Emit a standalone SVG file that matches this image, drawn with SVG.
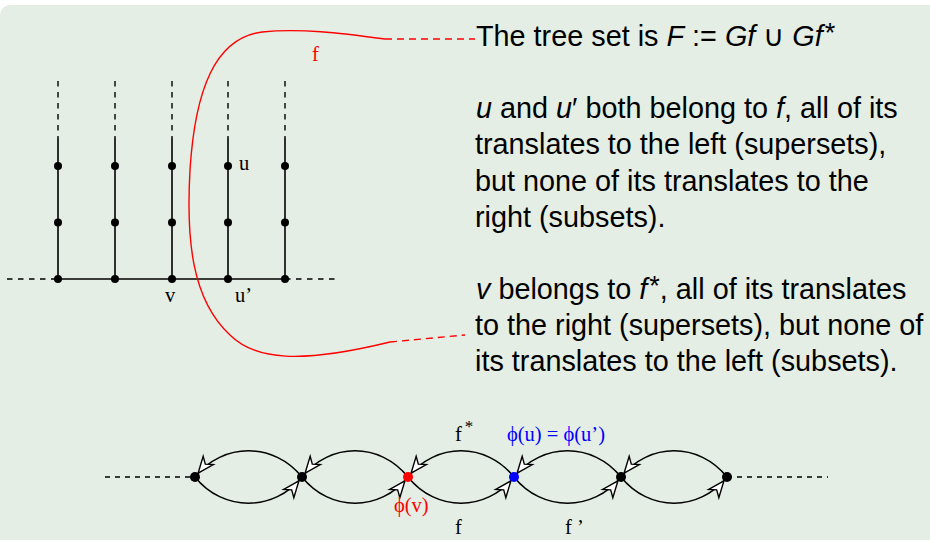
<svg xmlns="http://www.w3.org/2000/svg" width="930" height="540" viewBox="0 0 930 540">
<defs>
<style>
.bg{fill:#e4eee4}
.ln{stroke:#000;stroke-width:1.6;fill:none}
.dash{stroke:#000;stroke-width:1.4;fill:none;stroke-dasharray:5.5 5.5}
.red{stroke:#f00;stroke-width:1.4;fill:none}
.reddash{stroke:#f00;stroke-width:1.4;fill:none;stroke-dasharray:7 5}
.arc{stroke:#000;stroke-width:1.5;fill:none;marker-end:url(#ah)}
.dot{fill:#000}
.lbl{font-family:"Liberation Serif","Times New Roman",serif;font-size:20.5px;fill:#000}
.body{font-family:"Liberation Sans",Arial,sans-serif;font-size:28.8px;fill:#000}
.it{font-style:italic}
</style>
<marker id="ah" viewBox="0 0 24 16" refX="22" refY="8" markerWidth="24" markerHeight="16" markerUnits="userSpaceOnUse" orient="auto" overflow="visible">
<path d="M17,8 L0.8,1.5 L5.5,8 L0.8,14.5 Z" fill="#fff" stroke="#000" stroke-width="1.4" stroke-linejoin="miter"/>
</marker>
</defs>
<rect class="bg" x="0" y="5" width="945" height="550" rx="10"/>

<g id="tree">
<g id="tree-edges">
<line class="dash" x1="58" y1="81" x2="58" y2="138"/>
<line class="dash" x1="115" y1="81" x2="115" y2="138"/>
<line class="dash" x1="172" y1="81" x2="172" y2="138"/>
<line class="dash" x1="228" y1="81" x2="228" y2="138"/>
<line class="dash" x1="285" y1="81" x2="285" y2="138"/>
<line class="ln" x1="58" y1="138" x2="58" y2="279"/>
<line class="ln" x1="115" y1="138" x2="115" y2="279"/>
<line class="ln" x1="172" y1="138" x2="172" y2="279"/>
<line class="ln" x1="228" y1="138" x2="228" y2="279"/>
<line class="ln" x1="285" y1="138" x2="285" y2="279"/>
<line class="ln" x1="58" y1="279" x2="285" y2="279"/>
<line class="dash" x1="7" y1="279" x2="58" y2="279"/>
<line class="dash" x1="285" y1="279" x2="336" y2="279"/>
</g>
<g id="tree-nodes">
<circle class="dot" cx="58" cy="166" r="4"/><circle class="dot" cx="58" cy="222.5" r="4"/><circle class="dot" cx="58" cy="279" r="4"/>
<circle class="dot" cx="115" cy="166" r="4"/><circle class="dot" cx="115" cy="222.5" r="4"/><circle class="dot" cx="115" cy="279" r="4"/>
<circle class="dot" cx="172" cy="166" r="4"/><circle class="dot" cx="172" cy="222.5" r="4"/><circle class="dot" cx="172" cy="279" r="4"/>
<circle class="dot" cx="228" cy="166" r="4"/><circle class="dot" cx="228" cy="222.5" r="4"/><circle class="dot" cx="228" cy="279" r="4"/>
<circle class="dot" cx="285" cy="166" r="4"/><circle class="dot" cx="285" cy="222.5" r="4"/><circle class="dot" cx="285" cy="279" r="4"/>
</g>
<text class="lbl" x="239" y="170">u</text>
<text class="lbl" x="165" y="302">v</text>
<text class="lbl" x="235" y="302">u’</text>
</g>

<g id="region-f">
<path class="red" d="M385,39 C340,33 300,28 262,32 C215,38 195,90 190,170 C186,240 192,300 230,335 C255,360 300,364 390,342"/>
<line class="reddash" x1="385" y1="39" x2="475" y2="39"/>
<line class="reddash" x1="390" y1="342" x2="465" y2="335"/>
<text class="lbl" x="312" y="61" style="fill:#f00">f</text>
</g>

<g id="text-block">
<text class="body" x="476" y="46">The tree set is <tspan class="it">F</tspan> := <tspan class="it">Gf</tspan> ∪ <tspan class="it">Gf</tspan><tspan font-size="27" dx="2" dy="-4">*</tspan></text>
<text class="body" x="476" y="118"><tspan class="it">u</tspan> and <tspan class="it">u</tspan>′ both belong to <tspan class="it">f</tspan>, all of its</text>
<text class="body" x="475" y="154">translates to the left (supersets),</text>
<text class="body" x="475" y="191">but none of its translates to the</text>
<text class="body" x="475" y="227">right (subsets).</text>
<text class="body" x="476" y="299"><tspan class="it">v</tspan> belongs to <tspan class="it">f</tspan><tspan font-size="27" dx="2" dy="-4">*</tspan><tspan dy="4">, all of its translates</tspan></text>
<text class="body" x="475" y="335">to the right (supersets), but none of</text>
<text class="body" x="475" y="371">its translates to the left (subsets).</text>
</g>

<g id="connectors">
<line class="dash" x1="105" y1="477" x2="195" y2="477" style="stroke-dasharray:5 5"/>
<line class="dash" x1="727" y1="477" x2="828" y2="477" style="stroke-dasharray:5 5"/>
<path class="arc" d="M302,477 C274,442 223,442 195,477"/>
<path class="arc" d="M195,477 C223,512 274,512 302,477"/>
<path class="arc" d="M408,477 C380,442 330,442 302,477"/>
<path class="arc" d="M302,477 C330,512 380,512 408,477"/>
<path class="arc" d="M514,477 C486,442 436,442 408,477"/>
<path class="arc" d="M408,477 C436,512 486,512 514,477"/>
<path class="arc" d="M621,477 C593,442 542,442 514,477"/>
<path class="arc" d="M514,477 C542,512 593,512 621,477"/>
<path class="arc" d="M727,477 C699,442 649,442 621,477"/>
<path class="arc" d="M621,477 C649,512 699,512 727,477"/>
</g>

<g id="n1"><circle class="dot" cx="195" cy="477" r="5"/></g>
<g id="n2"><circle class="dot" cx="302" cy="477" r="5"/></g>
<g id="n3"><circle cx="408" cy="477" r="5" fill="#f00"/><text class="lbl" x="394" y="512" style="fill:#f00">ϕ(v)</text></g>
<g id="n4"><circle cx="514" cy="477" r="5" fill="#00f"/><text class="lbl" x="507" y="441" style="fill:#00f">ϕ(u) = ϕ(u’)</text></g>
<g id="n5"><circle class="dot" cx="621" cy="477" r="5"/></g>
<g id="n6"><circle class="dot" cx="727" cy="477" r="5"/></g>

<g id="edge-labels">
<text class="lbl" x="455" y="441">f<tspan font-size="17" dy="-9" dx="3">*</tspan></text>
<text class="lbl" x="455" y="534">f</text>
<text class="lbl" x="565" y="534">f ’</text>
</g>
</svg>
